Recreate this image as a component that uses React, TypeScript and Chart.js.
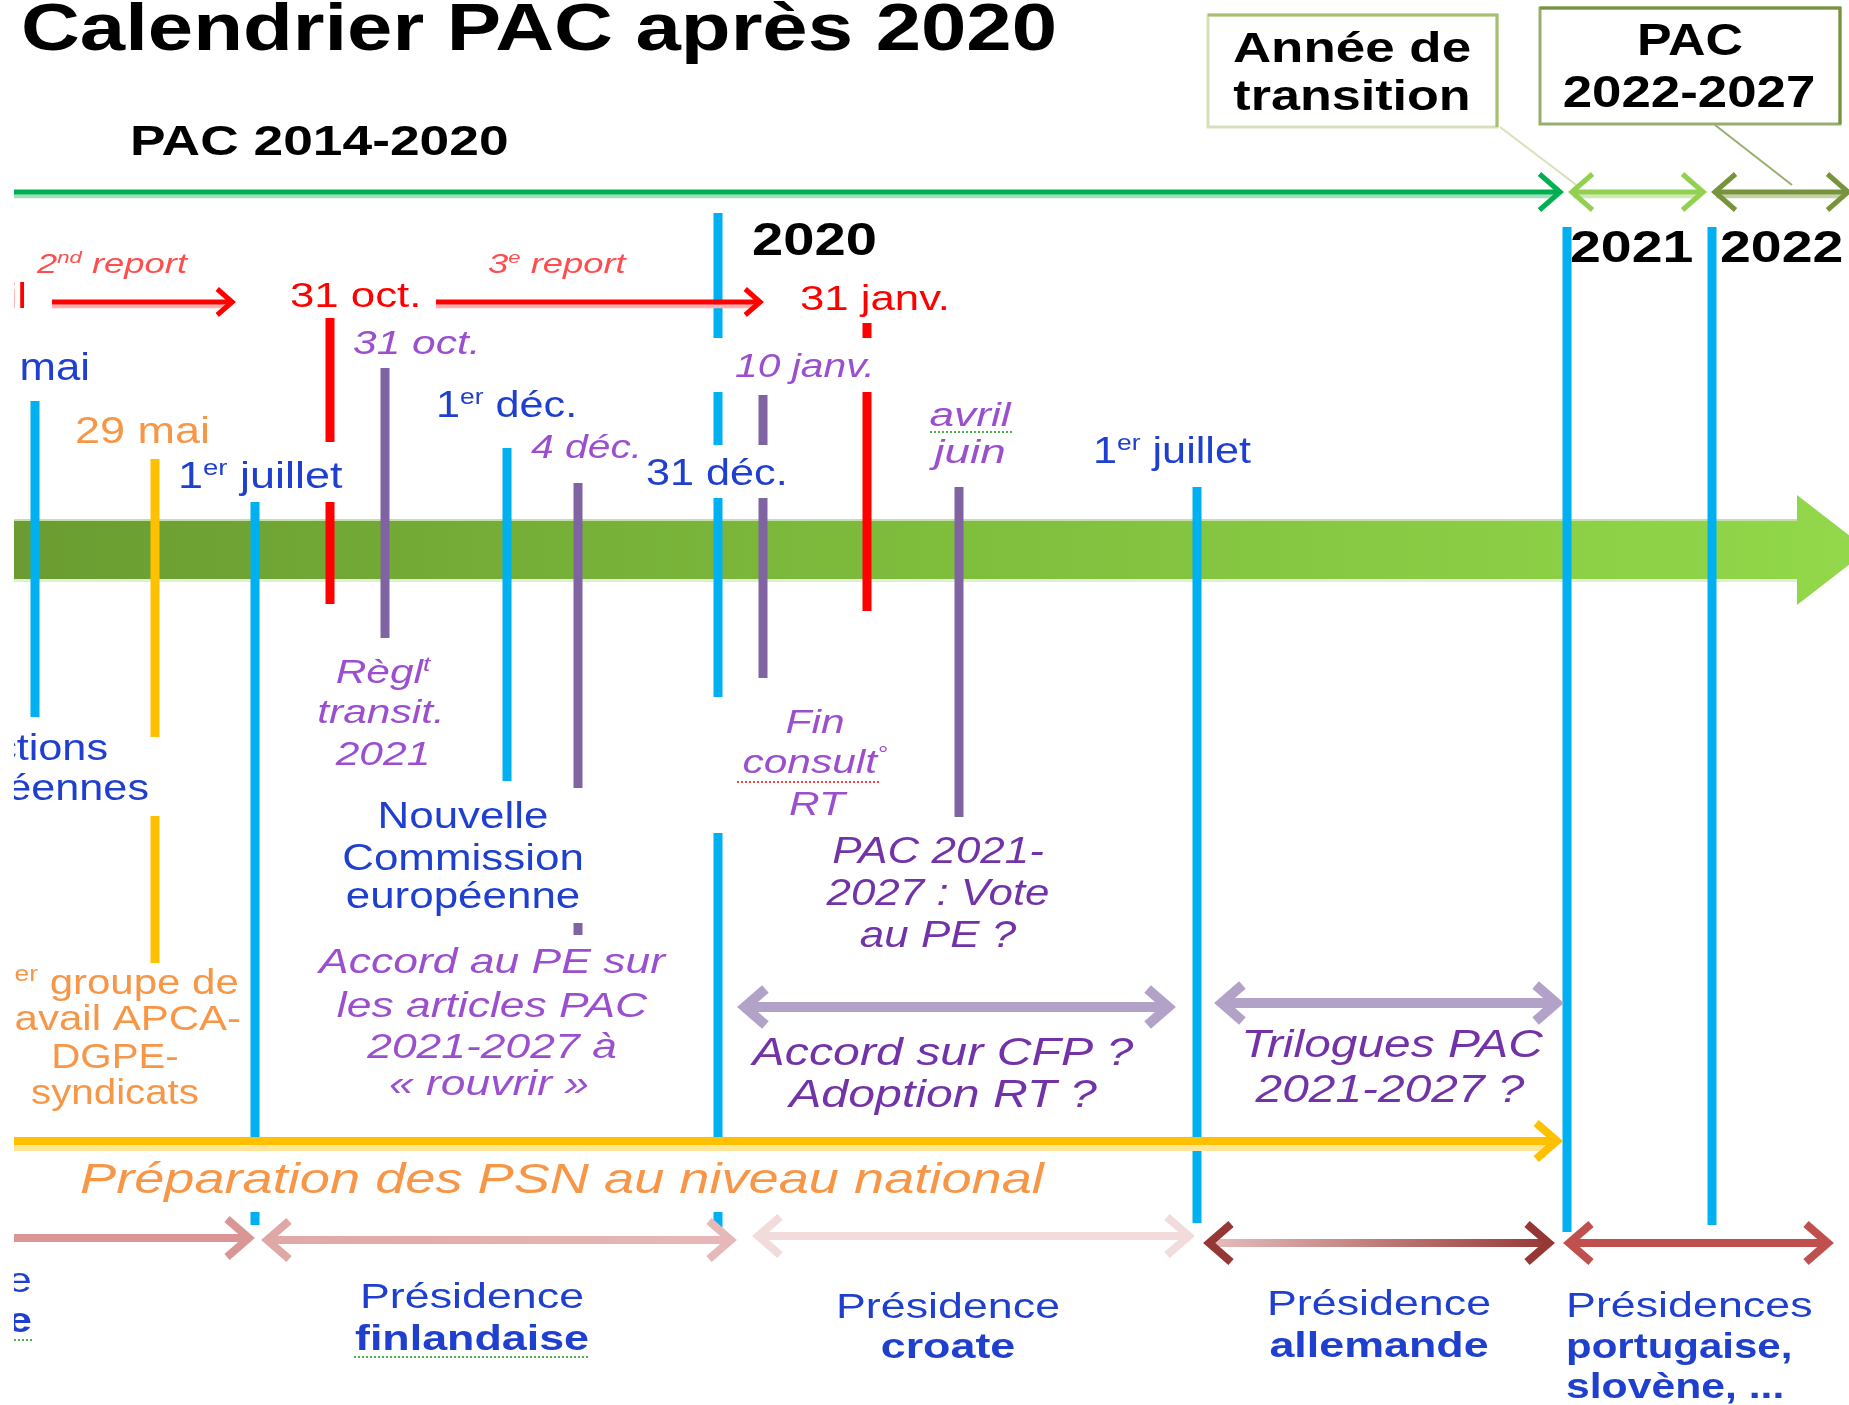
import React, { useEffect, useRef } from "react";
import { Chart, registerables } from "chart.js";

Chart.register(...registerables);

type Span = [number, number];
type Marker = { x: number; spans: Span[] };
type Arrow = {
  from: number; to: number; y: number; color: string; width: number; head: number;
  start?: boolean; end?: boolean; fade?: string; under?: string; headColor?: string;
};
type Label = {
  t: string; x: number; y: number; size: number; color: string;
  align?: "left" | "center" | "right"; bold?: boolean; italic?: boolean; k?: number;
};

// ---------- diagram frame (units = reference pixels) ----------
const xRange = [0, 1849];
const yRange = [0, 1405];
const visibleFrom = 14;

// ---------- vertical event markers ----------
const blueMarkers: Marker[] = [
  { x: 35, spans: [[401, 717]] },
  { x: 255, spans: [[502, 1147], [1212, 1225]] },
  { x: 507, spans: [[448, 781]] },
  { x: 718, spans: [[213, 338], [392, 445], [498, 697], [833, 1150], [1212, 1227]] },
  { x: 1197, spans: [[487, 1223]] },
  { x: 1567, spans: [[227, 1232]] },
  { x: 1712, spans: [[227, 1225]] },
];
const goldMarkers: Marker[] = [{ x: 155, spans: [[459, 737], [816, 963]] }];
const redMarkers: Marker[] = [
  { x: 330, spans: [[318, 442], [502, 604]] },
  { x: 867, spans: [[323, 338], [392, 611]] },
];
const purpleMarkers: Marker[] = [
  { x: 385, spans: [[368, 638]] },
  { x: 578, spans: [[483, 788], [923, 935]] },
  { x: 763, spans: [[395, 445], [498, 678]] },
  { x: 959, spans: [[487, 817]] },
];

// ---------- horizontal arrows ----------
const periodArrows: Arrow[] = [
  { from: 14, to: 1564, y: 192, color: "#00b050", width: 5, head: 18, end: true, under: "#9fe0bb" },
  { from: 1568, to: 1707, y: 192, color: "#92d050", width: 5, head: 18, start: true, end: true, under: "#cfe9b4" },
  { from: 1711, to: 1852, y: 192, color: "#77933c", width: 5, head: 18, start: true, end: true, under: "#c5d2a8" },
];
const reportArrows: Arrow[] = [
  { from: 52, to: 236, y: 302, color: "#ff0000", width: 5, head: 13, end: true, under: "#ffb0b0" },
  { from: 436, to: 764, y: 302, color: "#ff0000", width: 5, head: 13, end: true, under: "#ffb0b0" },
];
const nationalArrow: Arrow[] = [
  { from: 14, to: 1563, y: 1141, color: "#ffc000", width: 8, head: 18, end: true, under: "#ffe699" },
];
const negotiationArrows: Arrow[] = [
  { from: 737, to: 1176, y: 1007, color: "#b3a2c7", width: 10, head: 18, start: true, end: true },
  { from: 1214, to: 1564, y: 1003, color: "#b3a2c7", width: 10, head: 18, start: true, end: true },
];
const presidencyArrows: Arrow[] = [
  { from: 14, to: 255, y: 1238, color: "#d99694", width: 8, head: 19, end: true },
  { from: 261, to: 737, y: 1240, color: "#e6b9b8", width: 8, head: 19, start: true, end: true, fade: "#dfa8a7" },
  { from: 752, to: 1195, y: 1236, color: "#f2dcdb", width: 8, head: 19, start: true, end: true },
  { from: 1203, to: 1555, y: 1243, color: "#953735", width: 8, head: 19, start: true, end: true, fade: "#e6c0bf", headColor: "#953735" },
  { from: 1563, to: 1834, y: 1243, color: "#c0504d", width: 8, head: 19, start: true, end: true },
];

// ---------- main timeline arrow ----------
const bandFrom = 14;
const bandTo = 1797;
const bandTop = 521;
const bandBottom = 579;
const headTop = 495;
const headBottom = 605;
const headTip = 1868;

// ---------- boxes ----------
const boxes = [
  { x1: 1208, y1: 15, x2: 1497, y2: 127, dark: "#a6c070", light: "#d5e2b8", lx: 1500, ly: 127, tx: 1579, ty: 187 },
  { x1: 1540, y1: 8, x2: 1840, y2: 124, dark: "#77933c", light: "#98ae70", lx: 1715, ly: 125, tx: 1792, ty: 185 },
];

// ---------- text ----------
const BLUE = "#1f3fcf";
const PURPLE = "#9b4fcf";
const PURPLE_DARK = "#7232a8";
const ORANGE = "#f79646";
const RED = "#ff0000";

const headingLabels: Label[] = [
  { t: "Calendrier PAC après 2020", x: 21, y: 50, size: 66, color: "#000", bold: true, k: 1.235 },
  { t: "PAC 2014-2020", x: 130, y: 155, size: 42, color: "#000", bold: true, k: 1.27 },
  { t: "Année de", x: 1352, y: 62, size: 42, color: "#000", bold: true, align: "center", k: 1.26 },
  { t: "transition", x: 1352, y: 110, size: 42, color: "#000", bold: true, align: "center", k: 1.24 },
  { t: "PAC", x: 1690, y: 55, size: 44, color: "#000", bold: true, align: "center", k: 1.18 },
  { t: "2022-2027", x: 1689, y: 107, size: 44, color: "#000", bold: true, align: "center", k: 1.2 },
  { t: "2020", x: 752, y: 255, size: 46, color: "#000", bold: true, k: 1.22 },
  { t: "2021", x: 1570, y: 262, size: 44, color: "#000", bold: true, k: 1.26 },
  { t: "2022", x: 1720, y: 262, size: 44, color: "#000", bold: true, k: 1.26 },
];

const dateLabels: Label[] = [
  { t: "2^nd^ report", x: 37, y: 273, size: 28, color: "#ff4d4d", italic: true, k: 1.3 },
  { t: "3^e^ report", x: 488, y: 273, size: 28, color: "#ff4d4d", italic: true, k: 1.3 },
  { t: "avril", x: 27, y: 308, size: 35, color: RED, align: "right", k: 1.25 },
  { t: "31 oct.", x: 290, y: 307, size: 35, color: RED, k: 1.25 },
  { t: "31 janv.", x: 800, y: 310, size: 35, color: RED, k: 1.25 },
  { t: "31 oct.", x: 353, y: 354, size: 34, color: PURPLE, italic: true, k: 1.25 },
  { t: "4 déc.", x: 531, y: 458, size: 34, color: PURPLE, italic: true, k: 1.2 },
  { t: "10 janv.", x: 735, y: 377, size: 34, color: PURPLE, italic: true, k: 1.2 },
  { t: "avril", x: 970, y: 426, size: 34, color: PURPLE, italic: true, align: "center", k: 1.3 },
  { t: "juin", x: 970, y: 463, size: 34, color: PURPLE, italic: true, align: "center", k: 1.35 },
  { t: "26 mai", x: 90, y: 380, size: 38, color: BLUE, align: "right", k: 1.15 },
  { t: "29 mai", x: 75, y: 443, size: 36, color: ORANGE, k: 1.25 },
  { t: "1^er^ juillet", x: 178, y: 488, size: 36, color: BLUE, k: 1.25 },
  { t: "1^er^ déc.", x: 436, y: 417, size: 36, color: BLUE, k: 1.2 },
  { t: "31 déc.", x: 646, y: 485, size: 36, color: BLUE, k: 1.2 },
  { t: "1^er^ juillet", x: 1093, y: 463, size: 36, color: BLUE, k: 1.2 },
];

const eventLabels: Label[] = [
  { t: "Élections", x: 108, y: 760, size: 36, color: BLUE, align: "right", k: 1.2 },
  { t: "européennes", x: 149, y: 800, size: 36, color: BLUE, align: "right", k: 1.2 },
  { t: "1^er^ groupe de", x: 115, y: 994, size: 35, color: ORANGE, align: "center", k: 1.2 },
  { t: "travail APCA-", x: 115, y: 1030, size: 35, color: ORANGE, align: "center", k: 1.2 },
  { t: "DGPE-", x: 115, y: 1068, size: 35, color: ORANGE, align: "center", k: 1.15 },
  { t: "syndicats", x: 115, y: 1104, size: 35, color: ORANGE, align: "center", k: 1.15 },
  { t: "Règl^t", x: 383, y: 683, size: 34, color: PURPLE, italic: true, align: "center", k: 1.25 },
  { t: "transit.", x: 381, y: 723, size: 34, color: PURPLE, italic: true, align: "center", k: 1.25 },
  { t: "2021", x: 383, y: 765, size: 34, color: PURPLE, italic: true, align: "center", k: 1.25 },
  { t: "Nouvelle", x: 463, y: 828, size: 36, color: BLUE, align: "center", k: 1.22 },
  { t: "Commission", x: 463, y: 870, size: 36, color: BLUE, align: "center", k: 1.22 },
  { t: "européenne", x: 463, y: 908, size: 36, color: BLUE, align: "center", k: 1.22 },
  { t: "Accord au PE sur", x: 492, y: 973, size: 35, color: PURPLE, italic: true, align: "center", k: 1.27 },
  { t: "les articles PAC", x: 492, y: 1017, size: 35, color: PURPLE, italic: true, align: "center", k: 1.27 },
  { t: "2021-2027 à", x: 492, y: 1058, size: 35, color: PURPLE, italic: true, align: "center", k: 1.27 },
  { t: "« rouvrir »", x: 489, y: 1095, size: 35, color: PURPLE, italic: true, align: "center", k: 1.27 },
  { t: "Fin", x: 815, y: 733, size: 34, color: PURPLE, italic: true, align: "center", k: 1.25 },
  { t: "consult^°", x: 815, y: 773, size: 34, color: PURPLE, italic: true, align: "center", k: 1.25 },
  { t: "RT", x: 817, y: 815, size: 34, color: PURPLE, italic: true, align: "center", k: 1.25 },
  { t: "PAC 2021-", x: 938, y: 863, size: 36, color: PURPLE_DARK, italic: true, align: "center", k: 1.22 },
  { t: "2027 : Vote", x: 938, y: 905, size: 36, color: PURPLE_DARK, italic: true, align: "center", k: 1.22 },
  { t: "au PE ?", x: 938, y: 947, size: 36, color: PURPLE_DARK, italic: true, align: "center", k: 1.22 },
  { t: "Accord sur CFP ?", x: 943, y: 1065, size: 38, color: PURPLE_DARK, italic: true, align: "center", k: 1.27 },
  { t: "Adoption RT ?", x: 943, y: 1107, size: 38, color: PURPLE_DARK, italic: true, align: "center", k: 1.27 },
  { t: "Trilogues PAC", x: 1392, y: 1057, size: 38, color: PURPLE_DARK, italic: true, align: "center", k: 1.26 },
  { t: "2021-2027 ?", x: 1390, y: 1102, size: 38, color: PURPLE_DARK, italic: true, align: "center", k: 1.26 },
  { t: "Préparation des PSN au niveau national", x: 80, y: 1193, size: 43, color: ORANGE, italic: true, k: 1.26 },
];

const presidencyLabels: Label[] = [
  { t: "Présidence", x: 32, y: 1292, size: 35, color: BLUE, align: "right", k: 1.28 },
  { t: "roumaine", x: 32, y: 1332, size: 35, color: BLUE, align: "right", bold: true, k: 1.28 },
  { t: "Présidence", x: 472, y: 1308, size: 35, color: BLUE, align: "center", k: 1.28 },
  { t: "finlandaise", x: 472, y: 1350, size: 35, color: BLUE, align: "center", bold: true, k: 1.28 },
  { t: "Présidence", x: 948, y: 1318, size: 35, color: BLUE, align: "center", k: 1.28 },
  { t: "croate", x: 948, y: 1358, size: 35, color: BLUE, align: "center", bold: true, k: 1.28 },
  { t: "Présidence", x: 1379, y: 1315, size: 35, color: BLUE, align: "center", k: 1.28 },
  { t: "allemande", x: 1379, y: 1357, size: 35, color: BLUE, align: "center", bold: true, k: 1.28 },
  { t: "Présidences", x: 1566, y: 1317, size: 35, color: BLUE, k: 1.28 },
  { t: "portugaise,", x: 1566, y: 1358, size: 35, color: BLUE, bold: true, k: 1.2 },
  { t: "slovène, ...", x: 1566, y: 1398, size: 35, color: BLUE, bold: true, k: 1.22 },
];

// dotted "spell-check" underlines
const underlines = [
  { from: 354, to: 590, y: 1357, color: "#4caf50" },
  { from: 930, to: 1013, y: 432, color: "#4caf50" },
  { from: 737, to: 880, y: 782, color: "#ff4040" },
  { from: 14, to: 32, y: 1340, color: "#4caf50" },
];

const FONT = '"Liberation Sans", Arial, Helvetica, sans-serif';

function markerData(list: Marker[]) {
  const pts: { x: number; y: number | null }[] = [];
  list.forEach((m) => {
    m.spans.forEach(([a, b]) => {
      pts.push({ x: m.x, y: a }, { x: m.x, y: b }, { x: m.x, y: null });
    });
  });
  return pts;
}

function drawLabel(ctx: CanvasRenderingContext2D, X: (v: number) => number, Y: (v: number) => number, it: Label) {
  const parts = it.t.split("^");
  const k = it.k ?? 1.22;
  const font = (sup: boolean) =>
    `${it.italic ? "italic " : ""}${it.bold ? "bold " : ""}${Math.round(sup ? it.size * 0.62 : it.size)}px ${FONT}`;
  const widths = parts.map((p, i) => {
    ctx.font = font(i % 2 === 1);
    return ctx.measureText(p).width;
  });
  const total = widths.reduce((a, b) => a + b, 0) * k;
  const px = X(it.x);
  const start = it.align === "center" ? px - total / 2 : it.align === "right" ? px - total : px;
  ctx.save();
  ctx.translate(start, Y(it.y));
  ctx.scale(k, 1);
  ctx.fillStyle = it.color;
  ctx.textAlign = "left";
  ctx.textBaseline = "alphabetic";
  let cx = 0;
  parts.forEach((p, i) => {
    const sup = i % 2 === 1;
    ctx.font = font(sup);
    ctx.fillText(p, cx, sup ? -it.size * 0.36 : 0);
    cx += widths[i];
  });
  ctx.restore();
}

function drawArrow(ctx: CanvasRenderingContext2D, X: (v: number) => number, Y: (v: number) => number, a: Arrow) {
  const x1 = X(a.from);
  const x2 = X(a.to);
  const y = Y(a.y);
  const len = a.head * 1.15;
  const off = a.width * 0.77;
  let stroke: string | CanvasGradient = a.color;
  if (a.fade) {
    const g = ctx.createLinearGradient(x1, 0, x2, 0);
    g.addColorStop(0, a.fade);
    g.addColorStop(1, a.color);
    stroke = g;
  }
  ctx.lineCap = "butt";
  ctx.lineJoin = "miter";
  if (a.under) {
    ctx.strokeStyle = a.under;
    ctx.lineWidth = a.width * 0.8;
    ctx.beginPath();
    ctx.moveTo(x1 + (a.start ? a.width : 0), y + a.width * 0.85);
    ctx.lineTo(x2 - (a.end ? a.width * 1.5 : 0), y + a.width * 0.85);
    ctx.stroke();
  }
  ctx.strokeStyle = stroke;
  ctx.lineWidth = a.width;
  ctx.beginPath();
  ctx.moveTo(x1 + (a.start ? off : 0), y);
  ctx.lineTo(x2 - (a.end ? off : 0), y);
  ctx.stroke();
  const head = (tip: number, dir: number, col: string | CanvasGradient) => {
    ctx.strokeStyle = col;
    ctx.beginPath();
    ctx.moveTo(tip - dir * len, y - a.head);
    ctx.lineTo(tip, y);
    ctx.lineTo(tip - dir * len, y + a.head);
    ctx.stroke();
  };
  const hc = a.headColor ?? (a.fade ? null : a.color);
  if (a.end) head(x2 - off, 1, hc ?? a.color);
  if (a.start) head(x1 + off, -1, hc ?? a.fade ?? a.color);
}

const diagramPlugin = {
  id: "pacDiagram",
  beforeDatasetsDraw(chart: any) {
    const { ctx, scales } = chart;
    const X = (v: number) => scales.x.getPixelForValue(v);
    const Y = (v: number) => scales.y.getPixelForValue(v);
    ctx.save();
    ctx.fillStyle = "#ffffff";
    ctx.fillRect(0, 0, chart.width, chart.height);
    ctx.beginPath();
    ctx.rect(X(visibleFrom), 0, chart.width, chart.height);
    ctx.clip();

    // big green timeline arrow
    const g = ctx.createLinearGradient(X(bandFrom), 0, X(xRange[1]), 0);
    g.addColorStop(0, "#6a9c31");
    g.addColorStop(0.5, "#7fbd3d");
    g.addColorStop(1, "#92d84a");
    ctx.fillStyle = g;
    ctx.beginPath();
    ctx.moveTo(X(bandFrom), Y(bandTop));
    ctx.lineTo(X(bandTo), Y(bandTop));
    ctx.lineTo(X(bandTo), Y(headTop));
    ctx.lineTo(X(headTip), Y((headTop + headBottom) / 2));
    ctx.lineTo(X(bandTo), Y(headBottom));
    ctx.lineTo(X(bandTo), Y(bandBottom));
    ctx.lineTo(X(bandFrom), Y(bandBottom));
    ctx.closePath();
    ctx.fill();
    ctx.fillStyle = "#c6dea9";
    ctx.fillRect(X(bandFrom), Y(bandTop) - 2, X(bandTo) - X(bandFrom), 2);
    ctx.fillStyle = "#e1eed3";
    ctx.fillRect(X(bandFrom), Y(bandBottom), X(bandTo) - X(bandFrom), 3);

    // boxes and connectors
    boxes.forEach((b) => {
      ctx.lineWidth = 2;
      ctx.strokeStyle = b.light;
      ctx.beginPath();
      ctx.moveTo(X(b.lx), Y(b.ly));
      ctx.lineTo(X(b.tx), Y(b.ty));
      ctx.stroke();
      ctx.lineWidth = 3;
      ctx.strokeStyle = b.light;
      ctx.strokeRect(X(b.x1), Y(b.y1), X(b.x2) - X(b.x1), Y(b.y2) - Y(b.y1));
      ctx.strokeStyle = b.dark;
      ctx.beginPath();
      ctx.moveTo(X(b.x1), Y(b.y1));
      ctx.lineTo(X(b.x2), Y(b.y1));
      ctx.lineTo(X(b.x2), Y(b.y2));
      ctx.stroke();
    });
    ctx.restore();
  },
  afterDatasetsDraw(chart: any) {
    const { ctx, scales } = chart;
    const X = (v: number) => scales.x.getPixelForValue(v);
    const Y = (v: number) => scales.y.getPixelForValue(v);
    ctx.save();
    ctx.beginPath();
    ctx.rect(X(visibleFrom), 0, chart.width, chart.height);
    ctx.clip();

    [...periodArrows, ...reportArrows, ...nationalArrow, ...negotiationArrows, ...presidencyArrows].forEach((a) =>
      drawArrow(ctx, X, Y, a)
    );

    underlines.forEach((u) => {
      ctx.strokeStyle = u.color;
      ctx.lineWidth = 2;
      ctx.setLineDash([2, 2]);
      ctx.beginPath();
      ctx.moveTo(X(u.from), Y(u.y));
      ctx.lineTo(X(u.to), Y(u.y));
      ctx.stroke();
    });
    ctx.setLineDash([]);

    [...headingLabels, ...dateLabels, ...eventLabels, ...presidencyLabels].forEach((l) => drawLabel(ctx, X, Y, l));
    ctx.restore();
  },
};

export default function App() {
  const ref = useRef<HTMLCanvasElement | null>(null);
  useEffect(() => {
    document.body.style.margin = "0";
    document.body.style.overflow = "hidden";
    const canvas = ref.current;
    if (!canvas) return;
    const lineDs = (label: string, list: Marker[], color: string) => ({
      label,
      data: markerData(list),
      borderColor: color,
      backgroundColor: color,
      borderWidth: 9,
      borderCapStyle: "butt" as const,
      pointRadius: 0,
      pointHoverRadius: 0,
      tension: 0,
      fill: false,
      spanGaps: false,
    });
    const chart = new Chart(canvas, {
      type: "line",
      data: {
        datasets: [
          lineDs("Présidences / élections", blueMarkers, "#00b0f0"),
          lineDs("Groupe de travail", goldMarkers, "#ffc000"),
          lineDs("Reports Brexit", redMarkers, "#ff0000"),
          lineDs("Étapes PE / RT", purpleMarkers, "#8064a2"),
        ],
      },
      options: {
        animation: false,
        responsive: false,
        maintainAspectRatio: false,
        devicePixelRatio: 1,
        events: [],
        layout: { padding: 0 },
        parsing: true,
        scales: {
          x: { type: "linear", min: xRange[0], max: xRange[1], display: false },
          y: { type: "linear", min: yRange[0], max: yRange[1], reverse: true, display: false },
        },
        plugins: { legend: { display: false }, tooltip: { enabled: false }, title: { display: false } },
      },
      plugins: [diagramPlugin],
    });
    return () => chart.destroy();
  }, []);
  return (
    <div style={{ position: "absolute", left: 0, top: 0, width: 1849, height: 1405, background: "#fff" }}>
      <canvas ref={ref} width={1849} height={1405} style={{ width: 1849, height: 1405, display: "block" }} />
    </div>
  );
}
